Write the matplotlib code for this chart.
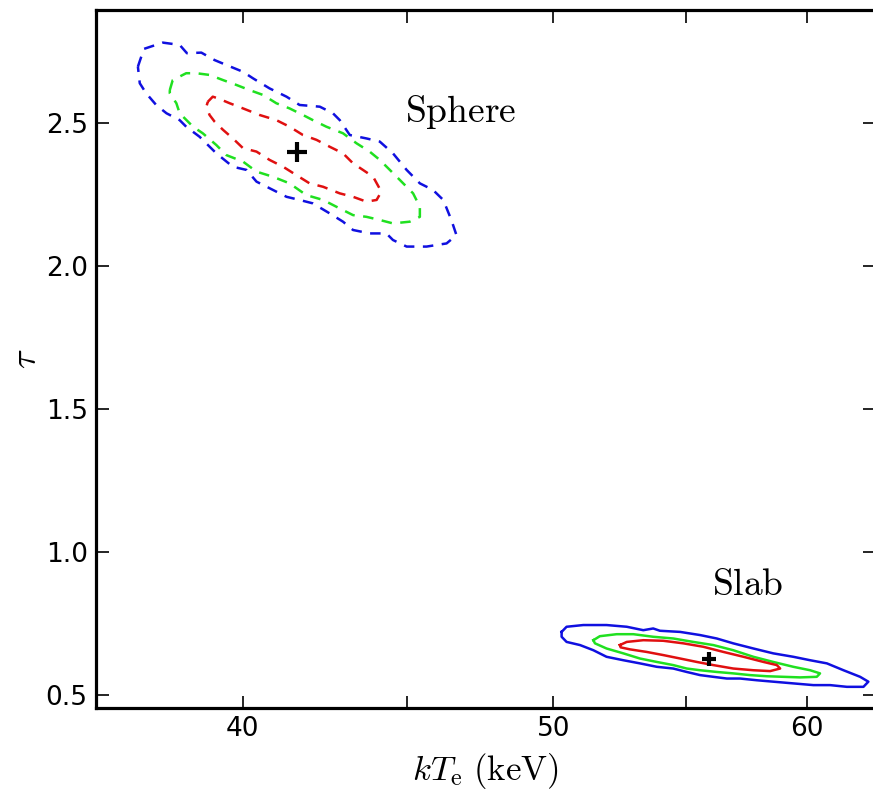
import matplotlib
matplotlib.use('Agg')
import matplotlib.pyplot as plt
import numpy as np

plt.rcParams['mathtext.fontset'] = 'cm'
plt.rcParams['font.family'] = ['DejaVu Sans']

# ---------------- data (kT_e in keV, tau) ----------------
# Sphere geometry: confidence contours (dashed)
sphere_outer_kte = [37.10, 37.26, 37.77, 38.23, 38.43, 38.83, 39.20, 39.53, 40.01, 40.30,
                    40.78, 41.28, 41.67, 42.28, 42.68, 42.89, 43.20, 43.72, 44.14, 44.56,
                    45.00, 45.43, 45.86, 46.20, 46.47, 46.64, 46.31, 45.65, 45.00, 44.56,
                    44.35, 43.82, 43.30, 42.99, 42.58, 42.07, 41.67, 41.28, 40.88, 40.40,
                    40.11, 39.72, 39.25, 38.78, 38.41, 38.23, 37.87, 37.59, 37.32, 37.15]
sphere_outer_tau = [2.697, 2.759, 2.781, 2.773, 2.744, 2.746, 2.720, 2.703, 2.679, 2.656,
                    2.621, 2.592, 2.563, 2.557, 2.534, 2.510, 2.458, 2.446, 2.435, 2.394,
                    2.336, 2.289, 2.266, 2.231, 2.161, 2.108, 2.079, 2.068, 2.068, 2.091,
                    2.114, 2.114, 2.126, 2.155, 2.184, 2.219, 2.231, 2.242, 2.266, 2.295,
                    2.336, 2.347, 2.394, 2.452, 2.487, 2.510, 2.534, 2.563, 2.604, 2.639]

sphere_mid_kte = [37.96, 38.04, 38.41, 38.69, 39.06, 39.44, 39.82, 40.20, 40.59, 40.98,
                  41.37, 41.77, 42.07, 42.48, 42.99, 43.41, 43.82, 44.14, 44.46, 44.78,
                  45.21, 45.43, 45.43, 45.10, 44.56, 44.14, 43.72, 43.30, 42.79, 42.38,
                  41.87, 41.37, 40.88, 40.40, 40.01, 39.53, 39.25, 38.87, 38.60, 38.23,
                  38.14, 37.96]
sphere_mid_tau = [2.615, 2.650, 2.674, 2.674, 2.668, 2.650, 2.633, 2.615, 2.598, 2.569,
                  2.551, 2.528, 2.510, 2.487, 2.464, 2.429, 2.400, 2.371, 2.336, 2.301,
                  2.254, 2.207, 2.172, 2.155, 2.149, 2.161, 2.172, 2.178, 2.207, 2.231,
                  2.248, 2.289, 2.312, 2.330, 2.365, 2.388, 2.423, 2.464, 2.487, 2.534,
                  2.569, 2.604]

sphere_inner_kte = [39.01, 39.15, 39.30, 39.63, 40.01, 40.49, 40.98, 41.37, 41.77, 42.18,
                    42.58, 42.99, 43.30, 43.61, 43.93, 44.19, 44.04, 43.72, 43.30, 42.89,
                    42.38, 41.97, 41.57, 41.18, 40.78, 40.40, 40.01, 39.72, 39.44, 39.20,
                    39.06, 38.97]
sphere_inner_tau = [2.574, 2.592, 2.586, 2.569, 2.551, 2.528, 2.510, 2.487, 2.458, 2.441,
                    2.417, 2.394, 2.359, 2.336, 2.312, 2.260, 2.231, 2.225, 2.242, 2.254,
                    2.277, 2.289, 2.318, 2.347, 2.371, 2.400, 2.412, 2.446, 2.476, 2.505,
                    2.528, 2.557]

# Slab geometry: confidence contours (solid)
slab_outer_kte = [50.30, 50.48, 51.09, 51.95, 52.71, 53.34, 53.72, 53.98, 54.77, 55.56,
                  56.23, 56.90, 57.73, 58.56, 59.41, 60.13, 60.86, 61.59, 62.33, 62.70,
                  62.48, 61.74, 61.00, 60.27, 59.41, 58.56, 57.87, 57.18, 56.64, 56.09,
                  55.56, 55.03, 54.50, 53.86, 53.21, 52.58, 51.95, 51.46, 50.97, 50.48,
                  50.30]
slab_outer_tau = [0.721, 0.739, 0.745, 0.745, 0.739, 0.727, 0.733, 0.725, 0.721, 0.710,
                  0.698, 0.681, 0.663, 0.646, 0.634, 0.622, 0.611, 0.587, 0.564, 0.547,
                  0.529, 0.529, 0.535, 0.535, 0.541, 0.547, 0.552, 0.558, 0.558, 0.564,
                  0.570, 0.581, 0.593, 0.599, 0.611, 0.622, 0.634, 0.657, 0.675, 0.686,
                  0.704]

slab_mid_kte = [51.46, 51.70, 52.33, 52.96, 53.72, 54.50, 55.29, 56.09, 56.90, 57.73,
                58.56, 59.41, 60.13, 60.56, 60.42, 59.70, 58.99, 58.29, 57.59, 56.90,
                56.23, 55.56, 55.03, 54.50, 53.86, 53.21, 52.58, 51.95, 51.52]
slab_mid_tau = [0.692, 0.706, 0.713, 0.713, 0.704, 0.698, 0.686, 0.675, 0.657, 0.634,
                0.616, 0.599, 0.587, 0.576, 0.564, 0.562, 0.564, 0.566, 0.570, 0.576,
                0.581, 0.587, 0.593, 0.605, 0.616, 0.628, 0.646, 0.663, 0.681]

slab_inner_kte = [52.45, 52.71, 53.34, 54.11, 54.90, 55.69, 56.50, 57.32, 58.15, 58.71,
                  58.85, 58.43, 57.73, 56.90, 56.09, 55.43, 54.77, 54.11, 53.47, 52.83,
                  52.48]
slab_inner_tau = [0.675, 0.686, 0.692, 0.690, 0.681, 0.669, 0.651, 0.634, 0.616, 0.605,
                  0.593, 0.584, 0.587, 0.593, 0.605, 0.616, 0.628, 0.640, 0.651, 0.660,
                  0.667]

# best-fit points
best_kte = [41.6, 55.93]
best_tau = [2.40, 0.628]
best_size = [14, 10]

labels = ['Sphere', 'Slab']
label_kte = [44.94, 56.04]
label_tau = [2.538, 0.885]

x_ticks = [40, 50, 60]
x_minor_ticks = [45, 55]
y_ticks = [0.5, 1.0, 1.5, 2.0, 2.5]

# ---------------- plot ----------------
fig = plt.figure(figsize=(8.73, 7.91), dpi=100)
ax = fig.add_axes([96 / 873, 83 / 791, 779 / 873, 698 / 791])
ax.set_xscale('log')

def closed(a):
    return np.append(a, a[0])

dash = (0, (4.2, 3.4))
ax.plot(closed(sphere_outer_kte), closed(sphere_outer_tau), color='#1010e0', lw=1.8, ls=dash)
ax.plot(closed(sphere_mid_kte), closed(sphere_mid_tau), color='#20e020', lw=1.8, ls=dash)
ax.plot(closed(sphere_inner_kte), closed(sphere_inner_tau), color='#e01010', lw=1.8, ls=dash)

ax.plot(closed(slab_outer_kte), closed(slab_outer_tau), color='#1010e0', lw=1.8)
ax.plot(closed(slab_mid_kte), closed(slab_mid_tau), color='#20e020', lw=1.8)
ax.plot(closed(slab_inner_kte), closed(slab_inner_tau), color='#e01010', lw=1.8)

for xk, yt, s in zip(best_kte, best_tau, best_size):
    ax.plot([xk], [yt], marker='+', color='black', ms=s, mew=3, ls='none')

for t, xk, yt in zip(labels, label_kte, label_tau):
    ax.text(xk, yt, r'$\mathrm{%s}$' % t, fontsize=27, ha='left', va='center')

ax.set_xlim(36.0, 63.0)
ax.set_ylim(0.455, 2.895)

ax.xaxis.set_major_locator(matplotlib.ticker.FixedLocator(x_ticks))
ax.xaxis.set_minor_locator(matplotlib.ticker.FixedLocator(x_minor_ticks))
ax.xaxis.set_major_formatter(matplotlib.ticker.FixedFormatter([str(v) for v in x_ticks]))
ax.xaxis.set_minor_formatter(matplotlib.ticker.NullFormatter())
ax.set_yticks(y_ticks)
ax.set_yticklabels(['%.1f' % v for v in y_ticks])

ax.tick_params(which='both', direction='in', top=True, right=True, length=9, width=1.2,
               labelsize=19, pad=6)

for sp in ax.spines.values():
    sp.set_linewidth(2.3)

ax.set_xlabel(r'$kT_{\rm e}\ {\rm (keV)}$', fontsize=25, labelpad=6)
ax.set_ylabel(r'$\tau$', fontsize=26, labelpad=2)

fig.savefig('out.png', dpi=100)
